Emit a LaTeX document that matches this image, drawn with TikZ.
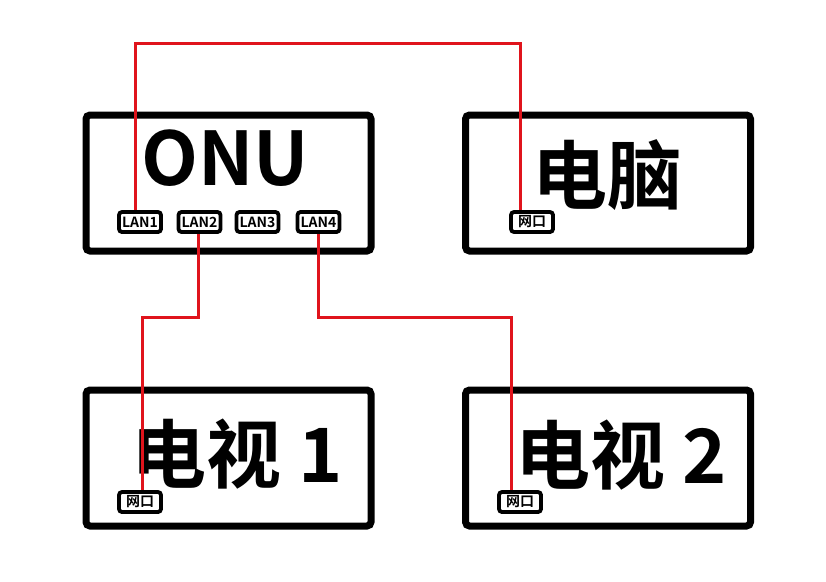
\documentclass[tikz,border=0pt]{standalone}
\usepackage{fontspec}
\setmainfont{Noto Sans CJK SC}[BoldFont={Noto Sans CJK SC Bold}]
\usetikzlibrary{positioning, calc}

\pgfdeclarelayer{boxes}
\pgfdeclarelayer{cables}
\pgfsetlayers{boxes, cables, main}

\definecolor{cablered}{HTML}{E0141C}
\tikzset{
	device/.style={draw=black, line width=7pt, rounded corners=4pt, minimum width=285pt, minimum height=136pt, inner sep=0pt},
	devname/.style={inner sep=0pt, font=\bfseries\fontsize{75}{75}\selectfont},
	port/.style={draw=black, fill=white, line width=3.8pt, rounded corners=3pt, minimum width=42pt, minimum height=20pt, inner sep=0pt, font=\bfseries\fontsize{14}{14}\selectfont},
	cable/.style={draw=cablered, line width=3pt},
}

\begin{document}
\begin{tikzpicture}[x=1pt, y=-1pt]
	\useasboundingbox (0,0) rectangle (826,581);

	% boxes
	\begin{pgfonlayer}{boxes}
	\fill[white] (0,0) rectangle (826,581);
	\node[device] (onu) at (228.5, 183) {};
	\node[device] (pc)  at (608, 183) {};
	\node[device] (tv1) at (228.5, 458) {};
	\node[device] (tv2) at (608, 458) {};

	\node[devname, font=\bfseries\fontsize{74}{74}\selectfont] (onuname) at (225, 158) {ONU};
	\node[devname] (pcname)  at (607, 175) {电脑};
	\node[devname] (tv1name) at (237, 454) {电视 1};
	\node[devname] (tv2name) at (621, 455) {电视 2};
	\end{pgfonlayer}

	% ports
	\node[port] (lan1) at (140, 222) {LAN1};
	\node[port] (lan2) at (199.5, 222) {LAN2};
	\node[port] (lan3) at (257.5, 222) {LAN3};
	\node[port] (lan4) at (318.5, 222) {LAN4};
	\node[port] (pcport)  at (532, 222) {网口};
	\node[port] (tv1port) at (140, 502) {网口};
	\node[port] (tv2port) at (520, 502) {网口};

	% cable runs
	\coordinate (toprun) at (0, 43);
	\coordinate (midrun) at (0, 317);

	\begin{pgfonlayer}{cables}
	\draw[cable] ([xshift=-5pt]lan1.north) -- ([xshift=-5pt]lan1.north |- toprun)
		-- ([xshift=-12pt]pcport.north |- toprun) -- ([xshift=-12pt]pcport.north);
	\draw[cable] ([xshift=-1.5pt]lan2.south) -- ([xshift=-1.5pt]lan2.south |- midrun)
		-- ([xshift=2pt]tv1port.north |- midrun) -- ([xshift=2pt]tv1port.north);
	\draw[cable] (lan4.south) -- (lan4.south |- midrun)
		-- ([xshift=-8.5pt]tv2port.north |- midrun) -- ([xshift=-8.5pt]tv2port.north);
	\end{pgfonlayer}
\end{tikzpicture}
\end{document}
